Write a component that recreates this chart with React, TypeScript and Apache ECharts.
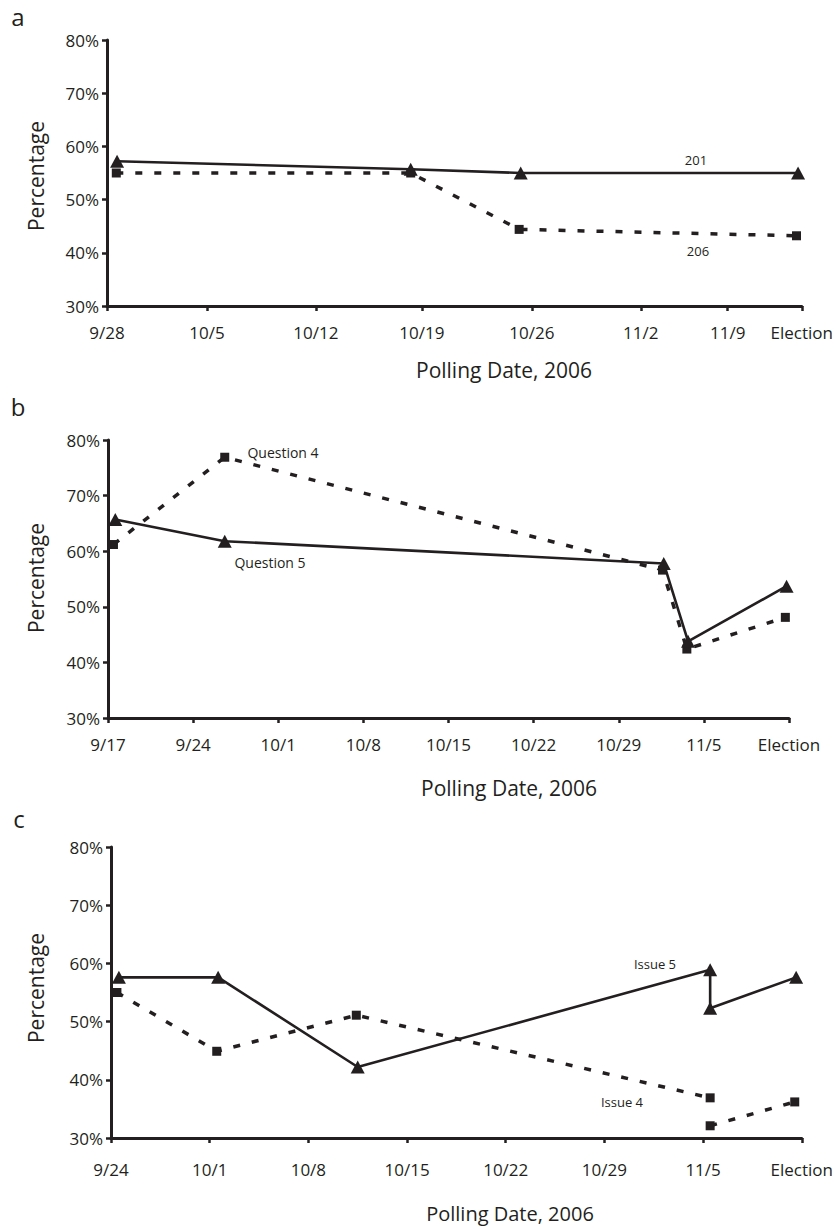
import { useEffect, useRef } from "react";
import * as echarts from "echarts";

const INK = "#231f20";
const FONT = "'Open Sans', sans-serif";

// y axis (all panels)
const yMin = 30;
const yMax = 80;
const yStep = 10;

// Panel a — tick positions in days after 9/28 (as drawn)
const aTickLabels = ["9/28", "10/5", "10/12", "10/19", "10/26", "11/2", "11/9", "Election"];
const aTickDays = [0, 6.45, 13.48, 20.32, 27.42, 34.45, 40.06, 44.84];
const aDays201 = [0.65, 19.6, 26.7, 44.6];
const aVals201 = [57.2, 55.7, 55.0, 55.0];
const aDays206 = [0.6, 19.6, 26.6, 44.5];
const aVals206 = [55.0, 55.0, 44.4, 43.2];

// Panel b — days after 9/17
const bTickLabels = ["9/17", "9/24", "10/1", "10/8", "10/15", "10/22", "10/29", "11/5", "Election"];
const bTickDays = [0, 7, 14, 21, 28, 35, 42, 49, 56];
const bDaysQ5 = [0.6, 9.6, 45.7, 47.7, 55.8];
const bValsQ5 = [65.7, 61.8, 57.8, 43.8, 53.7];
const bDaysQ4 = [0.45, 9.6, 45.6, 47.6, 55.7];
const bValsQ4 = [61.2, 76.9, 56.6, 42.4, 48.1];

// Panel c — days after 9/24
const cTickLabels = ["9/24", "10/1", "10/8", "10/15", "10/22", "10/29", "11/5", "Election"];
const cTickDays = [0, 7, 14, 21, 28, 35, 42, 49];
const cDaysI5 = [0.56, 7.6, 17.5, 42.5, 42.5, 48.6];
const cValsI5 = [57.6, 57.6, 42.2, 58.9, 52.3, 57.6];
const cDaysI4a = [0.42, 7.5, 17.4, 42.5];
const cValsI4a = [55.0, 44.9, 51.1, 36.9];
const cDaysI4b = [42.5, 48.5];
const cValsI4b = [32.1, 36.2];

const zip = (xs: number[], ys: number[]) => xs.map((x, i) => [x, ys[i]]);

function xAxis(gridIndex: number, ticks: number[], labels: string[], margin: number) {
  return {
    type: "value",
    gridIndex,
    min: ticks[0],
    max: ticks[ticks.length - 1],
    axisLine: { show: true, onZero: false, lineStyle: { color: INK, width: 3 } },
    axisTick: { show: true, length: 5, customValues: ticks, lineStyle: { color: INK, width: 2.5 } },
    axisLabel: {
      customValues: ticks,
      showMinLabel: true,
      showMaxLabel: true,
      margin,
      fontSize: 17,
      fontFamily: FONT,
      color: INK,
      formatter: (v: number) => {
        let best = 0;
        ticks.forEach((t, i) => {
          if (Math.abs(t - v) < Math.abs(ticks[best] - v)) best = i;
        });
        return labels[best];
      },
    },
    splitLine: { show: false },
  };
}

function yAxis(gridIndex: number) {
  return {
    type: "value",
    gridIndex,
    min: yMin,
    max: yMax,
    interval: yStep,
    axisLine: { show: true, lineStyle: { color: INK, width: 3 } },
    axisTick: { show: true, length: 5, lineStyle: { color: INK, width: 2.5 } },
    axisLabel: { formatter: "{value}%", fontSize: 17, fontFamily: FONT, color: INK, margin: 8 },
    splitLine: { show: false },
  };
}

function solid(name: string, idx: number, data: number[][]) {
  return {
    type: "line",
    name,
    xAxisIndex: idx,
    yAxisIndex: idx,
    data,
    symbol: "triangle",
    symbolSize: [14, 13],
    clip: false,
    silent: true,
    z: 4,
    itemStyle: { color: INK },
    lineStyle: { color: INK, width: 2.6, type: "solid" },
  };
}

function dashed(name: string, idx: number, data: number[][]) {
  return {
    type: "line",
    name,
    xAxisIndex: idx,
    yAxisIndex: idx,
    data,
    symbol: "rect",
    symbolSize: 9,
    clip: false,
    silent: true,
    z: 3,
    itemStyle: { color: INK },
    lineStyle: { color: INK, width: 3.5, type: [7, 12] },
  };
}

function txt(text: string, x: number, y: number, size: number, rotation = 0) {
  return {
    type: "text",
    x,
    y,
    rotation,
    silent: true,
    style: {
      text,
      fontSize: size,
      fontFamily: FONT,
      fill: INK,
      textAlign: "center",
      textVerticalAlign: "middle",
    },
  };
}

export default function App() {
  const ref = useRef<HTMLDivElement>(null);
  useEffect(() => {
    if (!ref.current) return;
    const chart = echarts.init(ref.current, null, { renderer: "svg" });
    chart.setOption({
      animation: false,
      backgroundColor: "#ffffff",
      grid: [
        { left: 107, top: 40, width: 695, height: 266 },
        { left: 108, top: 440, width: 681, height: 278 },
        { left: 111, top: 847, width: 694, height: 291 },
      ],
      xAxis: [
        xAxis(0, aTickDays, aTickLabels, 18),
        xAxis(1, bTickDays, bTickLabels, 18),
        xAxis(2, cTickDays, cTickLabels, 23),
      ],
      yAxis: [yAxis(0), yAxis(1), yAxis(2)],
      series: [
        dashed("206", 0, zip(aDays206, aVals206)),
        solid("201", 0, zip(aDays201, aVals201)),
        dashed("Question 4", 1, zip(bDaysQ4, bValsQ4)),
        solid("Question 5", 1, zip(bDaysQ5, bValsQ5)),
        dashed("Issue 4", 2, zip(cDaysI4a, cValsI4a)),
        dashed("Issue 4 ", 2, zip(cDaysI4b, cValsI4b)),
        solid("Issue 5", 2, zip(cDaysI5, cValsI5)),
      ],
      graphic: [
        txt("a", 18, 16, 24),
        txt("b", 18, 406, 24),
        txt("c", 19, 818, 24),
        txt("Percentage", 36, 176, 21, Math.PI / 2),
        txt("Percentage", 36, 578, 21, Math.PI / 2),
        txt("Percentage", 36, 988, 21, Math.PI / 2),
        txt("Polling Date, 2006", 504, 370, 21),
        txt("Polling Date, 2006", 509, 788, 21),
        txt("Polling Date, 2006", 510, 1213, 20),
        txt("201", 696, 160, 13),
        txt("206", 698, 251, 13),
        txt("Question 4", 283, 452, 14),
        txt("Question 5", 270, 562, 14),
        txt("Issue 5", 655, 964, 13),
        txt("Issue 4", 622, 1102, 13),
      ],
    });
    return () => chart.dispose();
  }, []);
  return (
    <div
      ref={ref}
      style={{ position: "absolute", left: 0, top: 0, width: 836, height: 1229, background: "#fff" }}
    />
  );
}
